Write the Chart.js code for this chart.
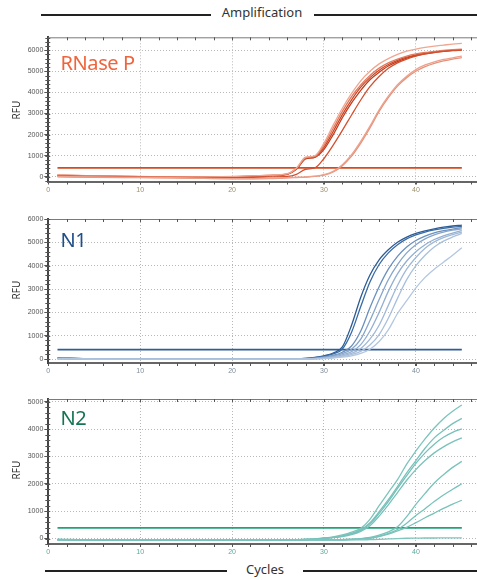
<!DOCTYPE html>
<html>
<head>
<meta charset="utf-8">
<script src="https://cdn.jsdelivr.net/npm/chart.js@4.4.1/dist/chart.umd.min.js"></script>
<style>
  body { margin: 0; background: #fff; width: 477px; height: 580px; overflow: hidden; position: relative; font-family: "Noto Sans", sans-serif; }
  .panel { position: absolute; left: 0; width: 477px; }
  .rule { position: absolute; height: 1.4px; background: #222; }
  .head { position: absolute; font-size: 13px; line-height: 13px; color: #333; text-align: center; width: 100px; }
  .rfu { position: absolute; width: 40px; height: 12px; line-height: 12px; font-size: 10px; color: #333; text-align: center; transform: rotate(-90deg); }
  .tag { position: absolute; font-size: 20px; line-height: 20px; letter-spacing: -0.4px; }
</style>
</head>
<body>
<div class="rule" style="left:41px;width:170px;top:14.3px"></div>
<div class="rule" style="left:314px;width:163px;top:14.3px"></div>
<div class="head" style="left:212px;top:6px">Amplification</div>

<div class="panel" style="top:30px;height:170px"><canvas id="rnaseChart" width="477" height="170"></canvas></div>
<div class="panel" style="top:200px;height:180px"><canvas id="n1Chart" width="477" height="180"></canvas></div>
<div class="panel" style="top:380px;height:180px"><canvas id="n2Chart" width="477" height="180"></canvas></div>

<div class="rfu" style="left:-4.5px;top:104px">RFU</div>
<div class="rfu" style="left:-4.5px;top:284px">RFU</div>
<div class="rfu" style="left:-4.5px;top:464px">RFU</div>

<div class="tag" style="left:60.5px;top:53.4px;color:#f0643c">RNase P</div>
<div class="tag" style="left:60.5px;top:230px;color:#1f4f8a">N1</div>
<div class="tag" style="left:60.5px;top:408px;color:#157553">N2</div>

<div class="rule" style="left:44.7px;width:182px;top:570.3px"></div>
<div class="rule" style="left:303px;width:174px;top:570.3px"></div>
<div class="head" style="left:215px;top:563px">Cycles</div>

<script>
// cycle numbers shared by every curve
var cycles = [1, 5, 10, 15, 20, 24, 26, 27, 28, 29, 30, 31, 32, 33, 34, 35, 36, 37, 38, 39, 40, 41, 42, 43, 44, 45];
var xTicks = [0, 10, 20, 30, 40];
var ticks6000 = [0, 1000, 2000, 3000, 4000, 5000, 6000];
var ticks5000 = [0, 1000, 2000, 3000, 4000, 5000];

// RNase P
var rnaseA1 = [90, 50, 20, 0, 20, 80, 150, 420, 930, 1000, 1600, 2450, 3250, 3950, 4550, 5000, 5350, 5600, 5800, 5950, 6050, 6130, 6190, 6240, 6290, 6320];
var rnaseA2 = [70, 40, 10, -10, 10, 70, 140, 400, 900, 970, 1500, 2300, 3100, 3800, 4350, 4800, 5150, 5400, 5580, 5720, 5820, 5890, 5940, 5990, 6020, 6050];
var rnaseA3 = [60, 30, 0, -20, 0, 60, 130, 380, 870, 940, 1400, 2150, 2950, 3650, 4250, 4700, 5050, 5320, 5520, 5670, 5780, 5860, 5920, 5960, 5990, 6010];
var rnaseA4 = [80, 40, 10, -10, 0, 50, 120, 360, 850, 920, 1300, 2000, 2800, 3500, 4100, 4600, 4950, 5250, 5460, 5620, 5740, 5830, 5900, 5950, 5990, 6020];
var rnaseB = [50, 20, 0, -30, -40, 0, 20, 120, 360, 420, 870, 1500, 2200, 2930, 3640, 4270, 4750, 5140, 5400, 5580, 5720, 5820, 5890, 5940, 5980, 6000];
var rnaseC1 = [20, 0, -20, -50, -80, -70, -40, -20, 0, 30, 100, 260, 580, 1050, 1680, 2400, 3180, 3820, 4370, 4770, 5080, 5300, 5450, 5560, 5640, 5720];
var rnaseC2 = [0, -20, -40, -60, -90, -80, -50, -30, -10, 20, 80, 230, 530, 980, 1600, 2320, 3100, 3750, 4300, 4700, 5000, 5220, 5380, 5490, 5580, 5650];
var rnaseThreshold = 430;

// N1
var n1C1 = [50, 10, 0, -10, 0, 0, 0, 10, 30, 70, 140, 260, 520, 1450, 2650, 3600, 4250, 4680, 5000, 5220, 5380, 5490, 5580, 5650, 5700, 5740];
var n1C2 = [30, 10, 0, 0, 10, 0, 0, 5, 25, 60, 120, 220, 430, 1150, 2250, 3300, 4050, 4550, 4900, 5150, 5320, 5440, 5530, 5600, 5650, 5690];
var n1C3 = [40, 0, 0, 0, 0, 0, 0, 0, 15, 40, 90, 160, 290, 560, 1200, 2200, 3100, 3850, 4400, 4800, 5080, 5270, 5410, 5500, 5570, 5630];
var n1C4 = [20, 0, -10, 0, 0, 0, 0, 0, 10, 30, 70, 130, 230, 420, 850, 1650, 2550, 3400, 4050, 4550, 4900, 5150, 5320, 5440, 5520, 5580];
var n1C5 = [30, 10, 0, 0, 0, 0, 0, 0, 5, 20, 50, 100, 180, 320, 620, 1200, 2000, 2900, 3650, 4200, 4600, 4900, 5120, 5280, 5400, 5500];
var n1C6 = [20, 0, 0, 0, 0, 0, 0, 0, 0, 15, 40, 80, 140, 240, 450, 850, 1450, 2300, 3150, 3850, 4350, 4750, 5020, 5200, 5330, 5440];
var n1C7 = [10, 0, 0, 0, 0, 0, 0, 0, 0, 10, 30, 60, 110, 190, 330, 600, 1050, 1750, 2600, 3400, 4000, 4450, 4800, 5050, 5230, 5380];
var n1C8 = [10, 0, 0, 0, 0, 0, 0, 0, 0, 5, 20, 45, 80, 140, 240, 420, 750, 1250, 1950, 2500, 3050, 3500, 3850, 4150, 4450, 4770];
var n1Threshold = 400;

// N2
var n2A = [-20, -50, -50, -50, -50, -50, -45, -40, -30, -10, 20, 60, 130, 230, 370, 700, 1200, 1680, 2150, 2720, 3200, 3640, 4040, 4380, 4650, 4880];
var n2B = [-30, -50, -50, -50, -50, -50, -45, -40, -30, -15, 10, 45, 100, 190, 320, 580, 980, 1420, 1900, 2400, 2850, 3300, 3680, 3950, 4200, 4390];
var n2C = [-40, -50, -50, -50, -50, -50, -45, -40, -35, -20, 10, 40, 90, 170, 300, 540, 920, 1350, 1830, 2300, 2750, 3130, 3450, 3700, 3880, 4010];
var n2D = [-50, -50, -50, -50, -50, -50, -45, -40, -35, -25, 5, 30, 70, 140, 260, 470, 820, 1230, 1680, 2130, 2520, 2850, 3130, 3350, 3530, 3680];
var n2E = [-60, -50, -50, -50, -50, -50, -50, -50, -50, -50, -50, -45, -40, -20, 0, 40, 120, 240, 430, 800, 1250, 1650, 2030, 2330, 2600, 2820];
var n2F = [-40, -50, -50, -50, -50, -50, -50, -50, -50, -50, -50, -50, -45, -30, -10, 20, 90, 190, 330, 560, 840, 1090, 1350, 1590, 1800, 2000];
var n2G = [-50, -50, -50, -50, -50, -50, -50, -50, -50, -50, -50, -50, -50, -40, -20, 10, 70, 160, 280, 410, 580, 760, 930, 1100, 1260, 1400];
var n2H = [-70, -50, -50, -50, -50, -50, -50, -50, -50, -50, -50, -50, -50, -50, -50, -40, -30, -15, 0, 10, 15, 20, 20, 25, 25, 25];
var n2Threshold = 390;

// small tick marks and the top frame line
var minorTicks = {
    id: 'minorTicks',
    afterDraw: function (chart) {
        var ctx = chart.ctx, a = chart.chartArea, x = chart.scales.x, y = chart.scales.y;
        ctx.save();
        ctx.strokeStyle = '#7a7a7a';
        ctx.lineWidth = 1;
        ctx.beginPath();
        ctx.moveTo(a.left, a.top + 0.5);
        ctx.lineTo(a.right, a.top + 0.5);
        ctx.stroke();
        ctx.strokeStyle = '#555';
        ctx.beginPath();
        for (var c = 2; c <= x.max; c += 2) {
            var px = Math.round(x.getPixelForValue(c)) + 0.5;
            ctx.moveTo(px, a.bottom);
            ctx.lineTo(px, a.bottom + 3);
            ctx.moveTo(px, a.top);
            ctx.lineTo(px, a.top + 3);
        }
        for (var v = Math.ceil(y.min / 200) * 200; v <= y.max; v += 200) {
            var py = Math.round(y.getPixelForValue(v)) + 0.5;
            ctx.moveTo(a.left - 3, py);
            ctx.lineTo(a.left + 2, py);
        }
        ctx.stroke();
        ctx.restore();
    }
};

function drawPanel(canvasId, curves, colors, threshold, thresholdColor, yMin, yMax, yTicks, padTop, xHeight, xLabelColor) {
    var ctx = document.getElementById(canvasId).getContext('2d');
    var datasets = curves.map(function (vals, i) {
        return {
            data: cycles.map(function (c, j) { return { x: c, y: vals[j] }; }),
            borderColor: colors[i],
            borderWidth: 1.3,
            pointRadius: 0,
            cubicInterpolationMode: 'monotone',
            fill: false
        };
    });
    datasets.push({
        data: [{ x: cycles[0], y: threshold }, { x: cycles[cycles.length - 1], y: threshold }],
        borderColor: thresholdColor,
        borderWidth: 1.7,
        pointRadius: 0,
        fill: false
    });

    new Chart(ctx, {
        type: 'line',
        data: { datasets: datasets },
        options: {
            responsive: false,
            animation: false,
            devicePixelRatio: 1,
            layout: { padding: { top: padTop, left: 0, right: 0, bottom: 0 } },
            plugins: { legend: { display: false }, tooltip: { enabled: false } },
            scales: {
                x: {
                    type: 'linear',
                    min: 0,
                    max: 46.65,
                    afterBuildTicks: function (s) { s.ticks = xTicks.map(function (v) { return { value: v }; }); },
                    afterFit: function (s) { s.height = xHeight; },
                    grid: { color: '#b8b8b8', lineWidth: 1, tickLength: 3, tickColor: '#555' },
                    border: { color: '#666', width: 2, dash: [1, 2] },
                    ticks: {
                        font: { size: 7, family: 'Liberation Sans' }, color: xLabelColor, padding: 1, maxRotation: 0, autoSkip: false,
                        callback: function (v) { return String(v); }
                    }
                },
                y: {
                    min: yMin,
                    max: yMax,
                    afterBuildTicks: function (s) { s.ticks = yTicks.map(function (v) { return { value: v }; }); },
                    afterFit: function (s) { s.width = 48.3; },
                    grid: { color: '#b8b8b8', lineWidth: 1, tickLength: 4, tickColor: '#555' },
                    border: { color: '#444', width: 2, dash: [1, 2] },
                    ticks: {
                        font: { size: 7, family: 'Liberation Sans' }, color: '#555', padding: 1, autoSkip: false,
                        callback: function (v) { return String(v); }
                    }
                }
            }
        },
        plugins: [minorTicks]
    });
}

drawPanel('rnaseChart',
    [rnaseC1, rnaseC2, rnaseB, rnaseA1, rnaseA2, rnaseA3, rnaseA4],
    ['#eca28c', '#e6907a', '#d3502f', '#f0a690', '#e27a5e', '#cc4728', '#c23c1d'],
    rnaseThreshold, '#d84a1c', -220, 6610, ticks6000, 7.3, 18.5, '#9a8f6a');

drawPanel('n1Chart',
    [n1C8, n1C7, n1C6, n1C5, n1C4, n1C3, n1C2, n1C1],
    ['#b3c7e0', '#a9c0dc', '#a0b9d8', '#93afd1', '#86a5ca', '#6a90bd', '#3b6ba2', '#2c5c94'],
    n1Threshold, '#2f5e96', -170, 6000, ticks6000, 19, 17, '#7d8b99');

drawPanel('n2Chart',
    [n2H, n2G, n2F, n2E, n2D, n2C, n2B, n2A],
    ['#7fc6bf', '#79c2bb', '#79c2bb', '#7ac3bc', '#79c2bb', '#76c0b9', '#79c2bb', '#7cc4bd'],
    n2Threshold, '#22a377', -200, 5100, ticks5000, 19, 16, '#5aa89a');
</script>
</body>
</html>
